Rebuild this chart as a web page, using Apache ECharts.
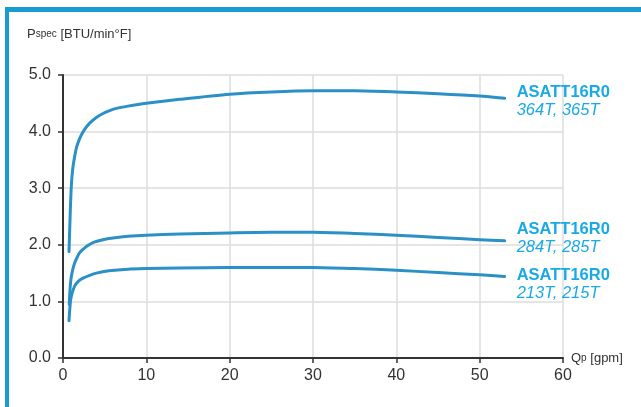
<!DOCTYPE html>
<html>
<head>
<meta charset="utf-8">
<script src="https://cdn.jsdelivr.net/npm/echarts@6/dist/echarts.min.js"></script>
<style>
html,body{margin:0;padding:0;background:#fff;}
#c{width:641px;height:407px;}
</style>
</head>
<body>
<div id="c"></div>
<script>
// ---- data ----
const xTicks = [0, 10, 20, 30, 40, 50, 60];
const yTicks = [0, 1, 2, 3, 4, 5];

const topX = [0.72, 0.80, 0.88, 0.96, 1.05, 1.2, 1.4, 1.6, 1.9, 2.2, 2.7, 3.2, 4.0, 4.8, 5.6, 6.4, 7.8, 10, 14, 20, 25, 30, 35, 40, 45, 50, 53];
const topY = [1.88, 2.25, 2.62, 2.92, 3.15, 3.38, 3.56, 3.71, 3.84, 3.94, 4.06, 4.15, 4.25, 4.32, 4.37, 4.41, 4.45, 4.50, 4.57, 4.66, 4.70, 4.72, 4.72, 4.70, 4.67, 4.63, 4.59];

const midX = [0.75, 0.82, 0.9, 1.0, 1.2, 1.4, 1.7, 2.0, 2.4, 2.8, 3.6, 4.8, 6.0, 7.8, 10, 14, 20, 25, 30, 35, 40, 45, 50, 53];
const midY = [0.95, 1.15, 1.32, 1.44, 1.58, 1.68, 1.78, 1.86, 1.92, 1.97, 2.04, 2.09, 2.12, 2.15, 2.17, 2.19, 2.21, 2.22, 2.22, 2.20, 2.17, 2.13, 2.09, 2.07];

const lowX = [0.72, 0.78, 0.85, 0.92, 1.1, 1.4, 1.8, 2.4, 3.2, 4.0, 5.5, 7.8, 10, 14, 20, 25, 30, 35, 40, 45, 50, 53];
const lowY = [0.66, 0.80, 0.93, 1.03, 1.15, 1.27, 1.35, 1.41, 1.46, 1.50, 1.54, 1.57, 1.58, 1.59, 1.60, 1.60, 1.60, 1.58, 1.55, 1.51, 1.47, 1.44];

const modelName = 'ASATT16R0';
const frameNames = ['364T, 365T', '284T, 285T', '213T, 215T'];

// ---- chart ----
const zip = (xs, ys) => xs.map((x, i) => [x, ys[i]]);
const lineColor = '#2a90c6';
const labelColor = '#19a9e6';
const textFont = 'Liberation Sans, Arial, sans-serif';

function makeSeries(xs, ys, name, dy) {
  return {
    type: 'line',
    data: zip(xs, ys),
    smooth: 0.25,
    showSymbol: false,
    silent: true,
    lineStyle: { color: lineColor, width: 3, cap: 'round', join: 'round' },
    endLabel: {
      show: true,
      distance: 12,
      offset: [0, dy],
      formatter: '{a|' + modelName + '}\n{b|' + name + '}',
      rich: {
        a: { fontFamily: textFont, fontSize: 16.5, fontWeight: 'bold', color: labelColor, lineHeight: 18 },
        b: { fontFamily: textFont, fontSize: 16.5, fontStyle: 'italic', color: labelColor, lineHeight: 18 }
      }
    }
  };
}

const chart = echarts.init(document.getElementById('c'), null, { renderer: 'canvas' });
chart.setOption({
  animation: false,
  backgroundColor: '#ffffff',
  grid: { left: 63, right: 78, top: 75, bottom: 49 },
  xAxis: {
    type: 'value',
    min: xTicks[0],
    max: xTicks[xTicks.length - 1],
    interval: 10,
    name: '{q|Q}{s|p}{q| [gpm]}',
    nameLocation: 'end',
    nameGap: 8,
    nameTextStyle: {
      rich: {
        q: { fontFamily: textFont, fontSize: 13, color: '#333' },
        s: { fontFamily: textFont, fontSize: 10, color: '#333' }
      }
    },
    axisLine: { lineStyle: { color: '#333', width: 2 } },
    axisTick: { show: true, length: 5, lineStyle: { color: '#333', width: 1.5 } },
    axisLabel: { fontFamily: textFont, fontSize: 16, color: '#333', margin: 10 },
    splitLine: { show: true, lineStyle: { color: '#dcdcdc', width: 1.5 } }
  },
  yAxis: {
    type: 'value',
    min: yTicks[0],
    max: yTicks[yTicks.length - 1],
    interval: 1,
    axisLine: { show: true, lineStyle: { color: '#333', width: 2 } },
    axisTick: { show: true, length: 5, lineStyle: { color: '#333', width: 1.5 } },
    axisLabel: { fontFamily: textFont, fontSize: 16, color: '#333', margin: 12, formatter: v => v.toFixed(1) },
    splitLine: { show: true, lineStyle: { color: '#dcdcdc', width: 1.5 } }
  },
  graphic: [
    { type: 'rect', left: 5, top: 7, shape: { width: 636, height: 5 }, style: { fill: '#1a9ad3' }, silent: true },
    { type: 'rect', left: 5, top: 7, shape: { width: 4, height: 400 }, style: { fill: '#1a9ad3' }, silent: true },
    {
      type: 'text', left: 27, top: 28, silent: true,
      style: {
        text: '{p|P}{s|spec}{p| [BTU/min°F]}',
        rich: {
          p: { fontFamily: textFont, fontSize: 13, fill: '#333' },
          s: { fontFamily: textFont, fontSize: 10, fill: '#333' }
        }
      }
    }
  ],
  series: [
    makeSeries(topX, topY, frameNames[0], 3),
    makeSeries(midX, midY, frameNames[1], -2),
    makeSeries(lowX, lowY, frameNames[2], 8)
  ]
});
</script>
</body>
</html>
